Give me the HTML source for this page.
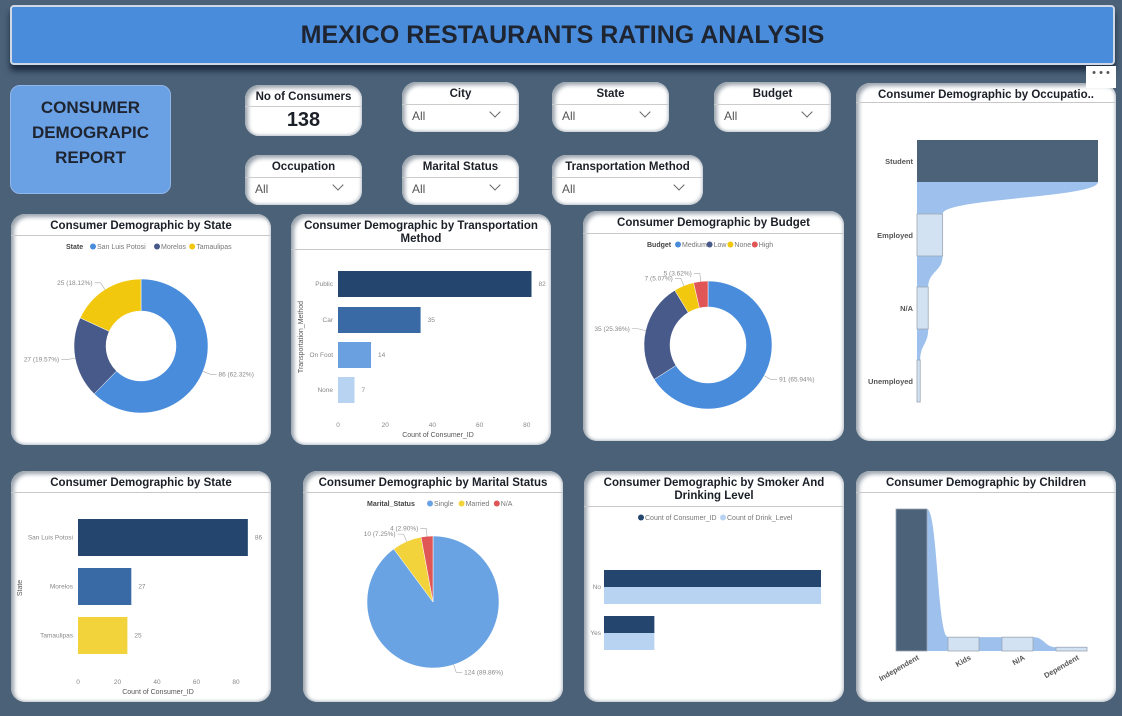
<!DOCTYPE html>
<html><head><meta charset="utf-8">
<style>
*{box-sizing:border-box;margin:0;padding:0}
body{width:1122px;height:716px;background:#4a6177;position:relative;overflow:hidden;font-family:"Liberation Sans",sans-serif}
.abs{position:absolute}
.banner{left:10px;top:5px;width:1105px;height:60px;background:#4a8cdc;border:2px solid #cfd8e4;border-radius:4px;box-shadow:0 6px 6px #1f2d42;text-align:center;line-height:56px;font-size:25px;font-weight:bold;color:#1e2430}
.report{left:10px;top:85px;width:161px;height:109px;background:#6aa0e4;border-radius:10px;border:1px solid #8fb7ea;text-align:center;font-weight:bold;font-size:17px;color:#1e2430;padding-top:9px;line-height:25px}
.card{background:#fff;border-radius:14px;box-shadow:inset 3px 3px 4px #9aa3ad,inset -1px -1px 3px #b8c0c8}
.ctitle{text-align:center;font-weight:bold;font-size:11.5px;color:#1b1f27;border-bottom:1px solid #c8c8c8;padding-top:6px;line-height:13px;white-space:nowrap}
.slicer .ctitle{border-bottom:1px solid #ccc;padding-bottom:3px}
.dd{position:absolute;left:8px;right:8px;bottom:5px;height:22px;font-size:12px;color:#555;padding:4px 2px}
.dd:after{content:"";position:absolute;right:12px;top:3px;width:7px;height:7px;border-right:1px solid #666;border-bottom:1px solid #666;transform:rotate(45deg)}
svg text{font-family:"Liberation Sans",sans-serif}
</style></head><body>
<div class="abs banner">MEXICO RESTAURANTS RATING ANALYSIS</div>
<div class="abs report">CONSUMER<br>DEMOGRAPIC<br>REPORT</div>

<div class="abs card" style="left:245px;top:85px;width:117px;height:51px">
 <div class="ctitle" style="border-bottom:1px solid #ccc;padding-bottom:2px">No of Consumers</div>
 <div style="text-align:center;font-size:20px;font-weight:bold;color:#1b1f27;line-height:26px">138</div>
</div>
<div class="abs card slicer" style="left:402px;top:82px;width:117px;height:50px"><div class="ctitle">City</div><div class="dd">All</div></div>
<div class="abs card slicer" style="left:552px;top:82px;width:117px;height:50px"><div class="ctitle">State</div><div class="dd">All</div></div>
<div class="abs card slicer" style="left:714px;top:82px;width:117px;height:50px"><div class="ctitle">Budget</div><div class="dd">All</div></div>
<div class="abs card slicer" style="left:245px;top:155px;width:117px;height:50px"><div class="ctitle">Occupation</div><div class="dd">All</div></div>
<div class="abs card slicer" style="left:402px;top:155px;width:117px;height:50px"><div class="ctitle">Marital Status</div><div class="dd">All</div></div>
<div class="abs card slicer" style="left:552px;top:155px;width:151px;height:50px"><div class="ctitle">Transportation Method</div><div class="dd">All</div></div>

<div class="abs card" style="left:856px;top:83px;width:260px;height:358px"><div class="ctitle" style="height:20px">Consumer Demographic by Occupatio..</div></div>
<div class="abs" style="left:1086px;top:66px;width:30px;height:22px;background:#fff;font-size:11px;color:#555;text-align:center;line-height:14px">• • •</div>

<div class="abs card" style="left:11px;top:214px;width:260px;height:231px"><div class="ctitle" style="height:22px">Consumer Demographic by State</div></div>
<div class="abs card" style="left:291px;top:214px;width:260px;height:231px"><div class="ctitle" style="height:36px">Consumer Demographic by Transportation<br>Method</div></div>
<div class="abs card" style="left:583px;top:211px;width:261px;height:230px"><div class="ctitle" style="height:23px">Consumer Demographic by Budget</div></div>
<div class="abs card" style="left:11px;top:471px;width:260px;height:231px"><div class="ctitle" style="height:22px">Consumer Demographic by State</div></div>
<div class="abs card" style="left:303px;top:471px;width:260px;height:231px"><div class="ctitle" style="height:22px">Consumer Demographic by Marital Status</div></div>
<div class="abs card" style="left:584px;top:471px;width:260px;height:231px"><div class="ctitle" style="height:36px">Consumer Demographic by Smoker And<br>Drinking Level</div></div>
<div class="abs card" style="left:856px;top:471px;width:260px;height:231px"><div class="ctitle" style="height:22px">Consumer Demographic by Children</div></div>

<svg id="charts" class="abs" style="left:0;top:0" width="1122" height="716"></svg>

<script>
const stateCats=["San Luis Potosi","Morelos","Tamaulipas"];
const stateVals=[86,27,25];
const transCats=["Public","Car","On Foot","None"];
const transVals=[82,35,14,7];
const budgetCats=["Medium","Low","None","High"];
const budgetVals=[91,35,7,5];
const maritalCats=["Single","Married","N/A"];
const maritalVals=[124,10,4];
const smokerCats=["No","Yes"];
const smokerConsumerVals=[112,26];
const smokerDrinkVals=[112,26];
const occCats=["Student","Employed","N/A","Unemployed"];
const occVals=[113,16,7,2];
const childCats=["Independent","Kids","N/A","Dependent"];
const childVals=[113,11,11,3];
const barTicks=[0,20,40,60,80];

const NS="http://www.w3.org/2000/svg";
const svg=document.getElementById('charts');
function el(tag,attrs,parent){const e=document.createElementNS(NS,tag);for(const k in attrs)e.setAttribute(k,attrs[k]);(parent||svg).appendChild(e);return e;}
function txt(x,y,s,size,fill,anchor,weight){const t=el('text',{x:x,y:y,'font-size':size,fill:fill,'text-anchor':anchor||'start','font-weight':weight||'normal'});t.textContent=s;return t;}
function legend(x,y,title,cats,colors){
  let cx=x;
  if(title){
    let t=txt(x,y,title,7,'#444','start','bold');
    
    
    cx=x+title.length*4+4;
  }
  cats.forEach((c,i)=>{
    const d=el('circle',{cx:cx+3,cy:y-2.5,r:3,fill:colors[i]});
    
    
    const l=txt(cx+7,y,c,7,'#777');
    
    
    cx+=10+c.length*3.6;
  });
}
function pie(cx,cy,R,r,vals,cats,colors,name){
  const tot=vals.reduce((a,b)=>a+b,0);let a0=-Math.PI/2;
  vals.forEach((v,i)=>{
    const a1=a0+v/tot*2*Math.PI;const large=(a1-a0)>Math.PI?1:0;
    const p=(rr,a)=>[cx+rr*Math.cos(a),cy+rr*Math.sin(a)];
    const [x0,y0]=p(R,a0),[x1,y1]=p(R,a1);
    let d;
    if(r>0){const [x2,y2]=p(r,a1),[x3,y3]=p(r,a0);
      d=`M${x0},${y0}A${R},${R} 0 ${large} 1 ${x1},${y1}L${x2},${y2}A${r},${r} 0 ${large} 0 ${x3},${y3}Z`;}
    else d=`M${cx},${cy}L${x0},${y0}A${R},${R} 0 ${large} 1 ${x1},${y1}Z`;
    const s=el('path',{d:d,fill:colors[i],stroke:'#fff','stroke-width':0.5});
    
    
    const am=(a0+a1)/2;const [lx,ly]=p(R+8,am);const right=Math.cos(am)>=0;
    const ex=lx+(right?6:-6);
    el('polyline',{points:`${p(R,am).join(',')} ${lx},${ly} ${ex},${ly}`,fill:'none',stroke:'#aaa','stroke-width':0.6});
    const lab=txt(ex+(right?2:-2),ly+2,v+' ('+(v/tot*100).toFixed(2)+'%)',6.5,'#888',right?'start':'end');
    
    
    a0=a1;
  });
}
function hbars(x0,pxPerUnit,ys,h,vals,cats,colors,name,tickY,axisTitle,titleX,yTitle,yTitleX,yTitleY){
  vals.forEach((v,i)=>{
    const b=el('rect',{x:x0,y:ys[i],width:v*pxPerUnit,height:h,fill:colors[i]});
    
    
    txt(x0+v*pxPerUnit+7,ys[i]+h/2+2,String(v),6.5,'#888');
    txt(x0-5,ys[i]+h/2+2,cats[i],6.5,'#888','end');
  });
  barTicks.forEach(t=>{const k=txt(x0+t*pxPerUnit,tickY,String(t),6.5,'#888','middle');
    
    });
  const at=txt(titleX,tickY+10,axisTitle,7,'#555','middle');
  
  
  const yt=txt(0,0,yTitle,7,'#555','middle');
  yt.setAttribute('transform',`translate(${yTitleX},${yTitleY}) rotate(-90)`);
  
  
}

legend(66,249,'State',stateCats,['#4a8cdc','#475a8a','#f2c80f']);
pie(141,346,67,35,stateVals,stateCats,['#4a8cdc','#475a8a','#f2c80f'],'state-donut');

hbars(338,2.36,[271,307,342,377],26,transVals,transCats,['#24466e','#3a6aa6','#6a9fe0','#b8d3f2'],'transport',427,'Count of Consumer_ID',438,'Transportation_Method',303,337);

legend(647,247,'Budget',budgetCats,['#4a8cdc','#475a8a','#f2c80f','#e05555']);
pie(708,345,64,38,budgetVals,budgetCats,['#4a8cdc','#475a8a','#f2c80f','#e05555'],'budget-donut');

hbars(78,1.975,[519,568,617],37,stateVals,stateCats,['#24466e','#3a6aa6','#f2d33c'],'state',684,'Count of Consumer_ID',158,'State',22,588);

legend(367,506,'Marital_Status',maritalCats,['#6aa3e3','#f2d33c','#e05555']);
pie(433,602,66,0,maritalVals,maritalCats,['#6aa3e3','#f2d33c','#e05555'],'marital-pie');

(function(){
  const x0=604,scale=217/112,ys=[570,616],h=17;
  legend(638,520,'',['Count of Consumer_ID','Count of Drink_Level'],['#24466e','#b8d3f2']);
  smokerCats.forEach((c,i)=>{
    const a=el('rect',{x:x0,y:ys[i],width:smokerConsumerVals[i]*scale,height:h,fill:'#24466e'});
    
    
    const b=el('rect',{x:x0,y:ys[i]+h,width:smokerDrinkVals[i]*scale,height:h,fill:'#b8d3f2'});
    
    
    txt(x0-3,ys[i]+h+2,c,6.5,'#888','end');
  });
})();

(function(){
  const x0=917,scale=181/113,ys=[140,214,287,360],h=42;
  occVals.forEach((v,i)=>{
    if(i<occVals.length-1){
      const w1=v*scale,w2=occVals[i+1]*scale,yA=ys[i]+h,yB=ys[i+1];const my=(yA+yB)/2;
      el('path',{d:`M${x0},${yA}L${x0+w1},${yA}C${x0+w1},${my} ${x0+w2},${my} ${x0+w2},${yB}L${x0},${yB}Z`,fill:'#9dc0ec'});
    }
  });
  occVals.forEach((v,i)=>{
    const r=el('rect',{x:x0,y:ys[i],width:Math.max(v*scale,2),height:h,fill:i==0?'#4b6278':'#d3e2f3',stroke:i==0?'none':'#9aa6b4','stroke-width':0.8});
    
    
    txt(x0-4,ys[i]+h/2+3,occCats[i],7.5,'#555','end','bold');
  });
})();

(function(){
  const base=651,scale=142/113,xs=[896,948,1002,1056],w=31;
  childVals.forEach((v,i)=>{
    if(i<childVals.length-1){
      const h1=v*scale,h2=childVals[i+1]*scale,xA=xs[i]+w,xB=xs[i+1],mx=(xA+xB)/2;
      el('path',{d:`M${xA},${base-h1}C${mx},${base-h1} ${mx},${base-h2} ${xB},${base-h2}L${xB},${base}L${xA},${base}Z`,fill:'#9dc0ec'});
    }
  });
  childVals.forEach((v,i)=>{
    const h=Math.max(v*scale,2);
    const r=el('rect',{x:xs[i],y:base-h,width:w,height:h,fill:i==0?'#4b6278':'#d3e2f3',stroke:'#9aa6b4','stroke-width':0.8});
    
    
    const t=txt(0,0,childCats[i],7.5,'#555','end','bold');
    t.setAttribute('transform',`translate(${xs[i]+w/2+8},${base+8}) rotate(-30)`);
    
    
  });
})();
</script>
</body></html>
